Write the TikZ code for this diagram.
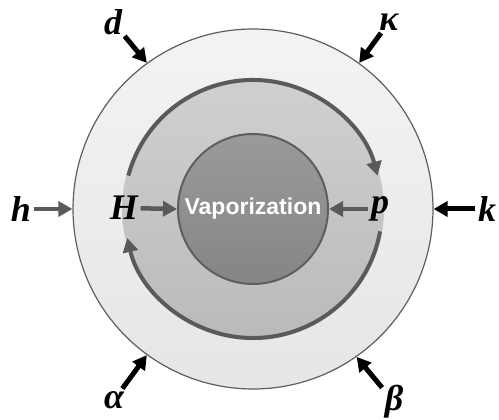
\documentclass[tikz,border=0pt]{standalone}
\usepackage{fontspec}
\setmainfont{Liberation Serif}
\setsansfont{Liberation Sans}
\usetikzlibrary{arrows.meta, positioning}

\definecolor{edgegray}{HTML}{5E5E5E}
\definecolor{arrowgray}{HTML}{5A5A5A}
\definecolor{outertop}{HTML}{F3F3F3}
\definecolor{outerbot}{HTML}{E6E6E6}
\definecolor{ringtop}{HTML}{D0D0D0}
\definecolor{ringbot}{HTML}{BABABA}
\definecolor{coretop}{HTML}{9A9A9A}
\definecolor{corebot}{HTML}{858585}

\begin{document}
\begin{tikzpicture}[x=1pt, y=1pt,
  disc/.style={circle, inner sep=0pt},
  varlabel/.style={inner sep=2.5pt, font=\fontsize{36}{36}\selectfont\bfseries\itshape},
  inarrow/.style={-{Triangle[length=14pt, width=15pt]}, line width=5pt, black},
  grayarrow/.style={-{Triangle[length=14pt, width=15pt]}, line width=4.5pt, arrowgray},
  cyclearc/.style={-{Triangle[length=14pt, width=15pt]}, line width=4pt, arrowgray},
]
\useasboundingbox (0,0) rectangle (499,420);

% Discs
\node[disc, minimum size=360pt, draw=edgegray, line width=1.2pt, top color=outertop, bottom color=outerbot] (outer) at (253,211) {};
\node[disc, minimum size=262pt, top color=ringtop, bottom color=ringbot] (ring) at (253,211) {};
\node[disc, minimum size=150pt, draw=edgegray, line width=2pt, top color=coretop, bottom color=corebot,
      text=white, font=\sffamily\bfseries\fontsize{23}{23}\selectfont] (core) at (253,211) {Vaporization};

% Cycle in the ring
\draw[cyclearc] ([shift={(165:129)}]core.center) arc[start angle=165, end angle=15, radius=129];
\draw[cyclearc] ([shift={(-10:129)}]core.center) arc[start angle=-10, end angle=-167, radius=129];

% Labels
\node[varlabel] (d) at (113,398) {d};
\node[varlabel] (kappa) at (389,398) {κ};
\node[varlabel] (h) at (21,211) {h};
\node[varlabel] (k) at (487,211) {k};
\node[varlabel] (alpha) at (114,20) {α};
\node[varlabel] (beta) at (394,18) {β};
\node[varlabel] (H) at (124,212) {H};
\node[varlabel] (p) at (380,211) {p};

% Arrows onto the outer circle
\foreach \lbl/\ang in {d/126, kappa/54, alpha/234, beta/305, k/0} {
  \draw[inarrow] (\lbl) -- (outer.\ang);
}
\draw[grayarrow] (h) -- (outer.180);

% Arrows onto the core
\draw[grayarrow] (H) -- (core.180);
\draw[grayarrow] (p) -- (core.0);

\end{tikzpicture}
\end{document}
